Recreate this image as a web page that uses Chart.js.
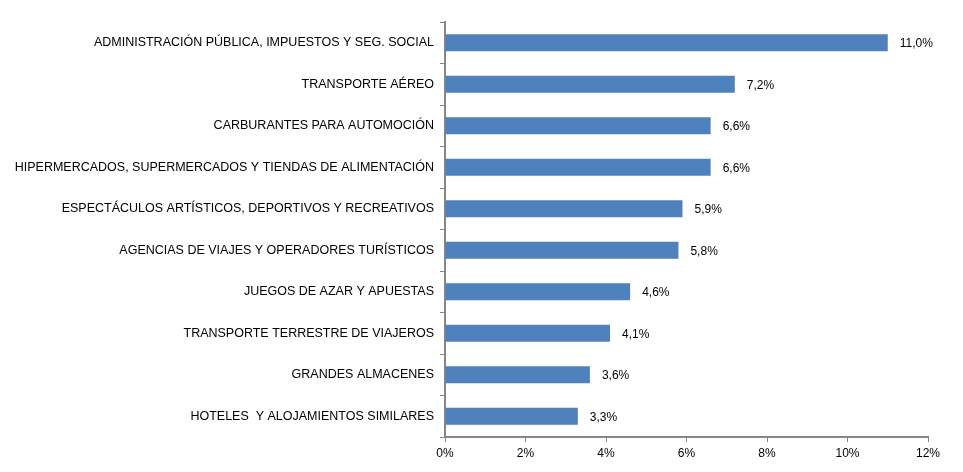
<!DOCTYPE html>
<html>
<head>
<meta charset="utf-8">
<script src="https://cdn.jsdelivr.net/npm/chart.js@4"></script>
<style>
  html, body { margin: 0; padding: 0; background: #fff; }
  canvas { display: block; }
</style>
</head>
<body>
<canvas id="chart" width="963" height="472"></canvas>
<script>
// ── Data ──────────────────────────────────────────────────────────────────────
const categories = [
  'ADMINISTRACIÓN PÚBLICA, IMPUESTOS Y SEG. SOCIAL',
  'TRANSPORTE AÉREO',
  'CARBURANTES PARA AUTOMOCIÓN',
  'HIPERMERCADOS, SUPERMERCADOS Y TIENDAS DE ALIMENTACIÓN',
  'ESPECTÁCULOS ARTÍSTICOS, DEPORTIVOS Y RECREATIVOS',
  'AGENCIAS DE VIAJES Y OPERADORES TURÍSTICOS',
  'JUEGOS DE AZAR Y APUESTAS',
  'TRANSPORTE TERRESTRE DE VIAJEROS',
  'GRANDES ALMACENES',
  'HOTELES  Y ALOJAMIENTOS SIMILARES',
];
const shares = [11.0, 7.2, 6.6, 6.6, 5.9, 5.8, 4.6, 4.1, 3.6, 3.3];
const xTicks = [0, 2, 4, 6, 8, 10, 12];

const AXIS_GREY = '#868686';
const FAMILY = "Arial, 'Liberation Sans', sans-serif";
const FONT = { family: FAMILY, size: 12 };

// ── Value labels to the right of each bar ─────────────────────────────────────
const valueLabels = {
  id: 'valueLabels',
  afterDatasetsDraw(chart) {
    const ctx = chart.ctx;
    const meta = chart.getDatasetMeta(0);
    ctx.save();
    ctx.font = `${FONT.size}px ${FONT.family}`;
    ctx.fillStyle = '#000';
    ctx.textAlign = 'left';
    ctx.textBaseline = 'middle';
    meta.data.forEach((bar, i) => {
      const txt = shares[i].toFixed(1).replace('.', ',') + '%';
      ctx.fillText(txt, bar.x + 12, bar.y + 1);
    });
    ctx.restore();
  },
};

// ── Chart ─────────────────────────────────────────────────────────────────────
new Chart(document.getElementById('chart').getContext('2d'), {
  type: 'bar',
  data: {
    labels: categories,
    datasets: [{
      data: shares,
      backgroundColor: '#4F81BD',
      borderWidth: 0,
      barPercentage: 0.41,
      categoryPercentage: 1,
    }],
  },
  options: {
    indexAxis: 'y',
    responsive: false,
    animation: false,
    layout: { padding: { top: 22, right: 35, left: 0, bottom: 0 } },
    plugins: { legend: { display: false }, tooltip: { enabled: false } },
    scales: {
      x: {
        min: 0,
        max: 12,
        afterBuildTicks: (scale) => { scale.ticks = xTicks.map(v => ({ value: v })); },
        afterFit: (scale) => { scale.height = 35; },
        ticks: {
          color: '#000',
          font: FONT,
          padding: 4,
          maxRotation: 0,
          callback: (v) => v + '%',
        },
        grid: { drawOnChartArea: false, tickLength: 5, color: AXIS_GREY, lineWidth: 1 },
        border: { color: AXIS_GREY, width: 2 },
      },
      y: {
        afterFit: (scale) => { scale.width = 445; },
        ticks: { color: '#000', font: { family: FAMILY, size: 12.5 }, padding: 6, autoSkip: false },
        grid: { drawOnChartArea: false, tickLength: 5, color: AXIS_GREY, lineWidth: 1, offset: true },
        border: { color: AXIS_GREY, width: 2 },
      },
    },
  },
  plugins: [valueLabels],
});
</script>
</body>
</html>
